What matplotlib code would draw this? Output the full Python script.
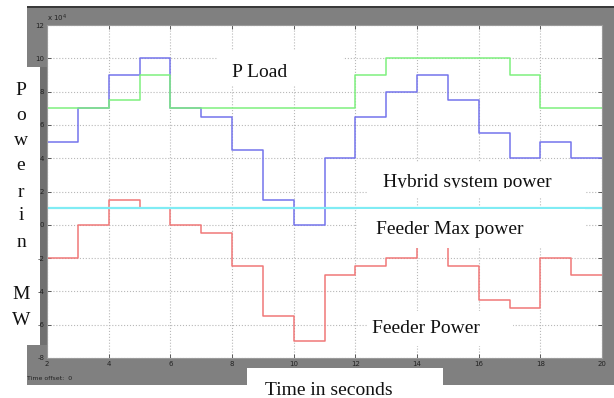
import matplotlib
matplotlib.use('Agg')
import matplotlib.pyplot as plt
import numpy as np
from matplotlib.patches import Rectangle
from matplotlib.transforms import Bbox, TransformedBbox

# step signals, one value per second from t=2 to t=19 (held until t=20)
time_s = [2, 3, 4, 5, 6, 7, 8, 9, 10, 11, 12, 13, 14, 15, 16, 17, 18, 19]
p_load = [70000, 70000, 75000, 90000, 70000, 70000, 70000, 70000, 70000,
          70000, 90000, 100000, 100000, 100000, 100000, 90000, 70000, 70000]
hybrid_power = [50000, 70000, 90000, 100000, 70000, 65000, 45000, 15000, 0,
                40000, 65000, 80000, 90000, 75000, 55000, 40000, 50000, 40000]
feeder_power = [-20000, 0, 15000, 10000, 0, -5000, -25000, -55000, -70000,
                -30000, -25000, -20000, -10000, -25000, -45000, -50000, -20000, -30000]
feeder_max = 10000
t_end = 20

xticks = [2, 4, 6, 8, 10, 12, 14, 16, 18, 20]
yticks = [-80000, -60000, -40000, -20000, 0, 20000, 40000, 60000, 80000, 100000, 120000]

W, H = 614, 398
fig = plt.figure(figsize=(W / 100, H / 100), dpi=100)
fig.patch.set_facecolor('white')


def box(x0, y0, x1, y1, color, z):
    # rectangle given in pixels from the top-left corner
    r = Rectangle((x0 / W, 1 - y1 / H), (x1 - x0) / W, (y1 - y0) / H,
                  transform=fig.transFigure, facecolor=color, edgecolor='none', zorder=z)
    fig.add_artist(r)


# scope window frame
box(27, 7, 614, 385, '#808080', -3)
box(27, 6, 614, 8, '#3a3a3a', -2)
box(0, 67, 40, 345, 'white', -2)
box(40, 67, 47, 345, '#707070', -2)
box(247, 368, 443, 398, 'white', -2)

ax = fig.add_axes([47 / W, 1 - 358 / H, 555 / W, 333 / H])
ax.set_facecolor('white')

tt = np.append(time_s, t_end)
step = lambda v: np.append(v, v[-1])
ax.step(tt, step(hybrid_power), where='post', color='#7474ec', lw=1.1)
ax.step(tt, step(feeder_power), where='post', color='#f07878', lw=1.1)
ax.plot([time_s[0], t_end], [feeder_max, feeder_max], color='#80ecf4', lw=1.6)
ax.step(tt, step(p_load), where='post', color='#7ef07e', lw=1.1)

ax.set_xlim(2, 20)
ax.set_ylim(-80000, 120000)
ax.set_xticks(xticks)
ax.set_xticklabels([str(v) for v in xticks])
ax.set_yticks(yticks)
ax.set_yticklabels([f'{v / 1e4:.0f}' for v in yticks])
ax.tick_params(direction='in', length=3, width=0.6, color='#444444', labelsize=5,
               labelcolor='#222222', top=True, right=True, pad=2)
ax.grid(True, linestyle=':', color='#b8b8b8', lw=0.8)
for s in ax.spines.values():
    s.set_color('#9a9a9a')
    s.set_linewidth(0.8)

fig.text(47 / W, 1 - 21 / H, r'x 10$^{4}$', fontsize=5, color='#222222')
fig.text(27 / W, 1 - 380 / H, 'Time offset:  0', fontsize=4.5, color='#222222')

# label boxes that sit over the plot
box(217, 50, 343, 86, 'white', 3)
box(367, 163, 585, 198, 'white', 3)
box(357, 208.5, 585, 248, 'white', 3)
box(367, 311, 513, 346, 'white', 3)

serif = dict(family='Liberation Serif', fontsize=14, color='#111111', zorder=4)


def label(x, y, s, **kw):
    return fig.text(x / W, 1 - y / H, s, ha='center', va='baseline', **serif, **kw)


label(260, 77, 'P Load')
hy = label(467, 187, 'Hybrid system power')
hy.set_clip_box(TransformedBbox(Bbox([[0, 1 - 188 / H], [1, 1]]), fig.transFigure))
label(450, 234, 'Feeder Max power')
label(426, 333, 'Feeder Power')
label(329, 395, 'Time in seconds')

letters = ['P', 'o', 'w', 'e', 'r', 'i', 'n', 'M', 'W']
baselines = [95, 120, 145, 170, 197, 220, 247, 299, 325]
for ch, yb in zip(letters, baselines):
    label(21, yb, ch)

fig.savefig('out.png', dpi=100)
